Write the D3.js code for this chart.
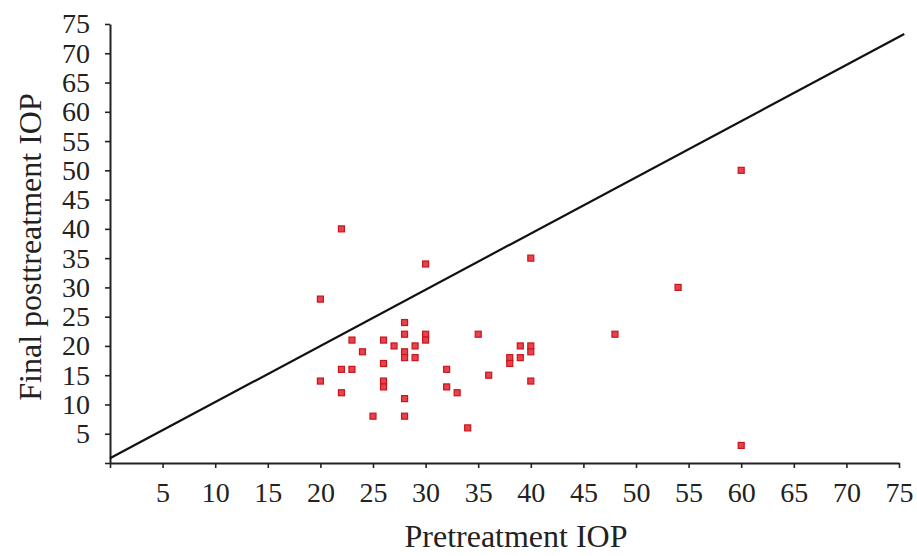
<!DOCTYPE html>
<html>
<head>
<meta charset="utf-8">
<script src="https://cdn.jsdelivr.net/npm/d3@7"></script>
<style>
  body { margin: 0; background: #fff; overflow: hidden; }
  svg { display: block; }
  svg text { font-family: "Liberation Serif", "DejaVu Serif", serif; fill: #222; }
</style>
</head>
<body>
<svg width="917" height="556"></svg>
<script>
// pretreatment vs final posttreatment IOP
const pretreatment = [20, 22, 30, 40, 54, 60, 48, 60,
  28, 23, 28, 30, 30, 26, 27, 29, 35, 24, 28, 28, 29, 26, 22, 23, 32,
  20, 26, 26, 36, 32, 22, 33, 28, 25, 28, 34, 38, 38, 39, 39, 40, 40, 40];
const posttreatment = [28, 40, 34, 35, 30, 50, 22, 3,
  24, 21, 22, 22, 21, 21, 20, 20, 22, 19, 19, 18, 18, 17, 16, 16, 16,
  14, 14, 13, 15, 13, 12, 12, 11, 8, 8, 6, 18, 17, 20, 18, 20, 19, 14];

// reference line as drawn in the figure (start and end points)
const refLineX = [0, 75.5];
const refLineY = [0.8, 73.3];

const tickValues = d3.range(0, 80, 5);
const xAxisLabel = 'Pretreatment IOP';
const yAxisLabel = 'Final posttreatment IOP';

const svg = d3.select('svg');
const width = +svg.attr('width');
const height = +svg.attr('height');

const margin = {top: 24, right: 18, bottom: 93, left: 110};
const innerWidth = width - margin.left - margin.right;
const innerHeight = height - margin.top - margin.bottom;

const data = pretreatment.map((d, i) => ({x: d, y: posttreatment[i]}));

const xScale = d3.scaleLinear().domain([0, 75]).range([0, innerWidth]);
const yScale = d3.scaleLinear().domain([0, 75]).range([innerHeight, 0]);

const g = svg.append('g')
    .attr('transform', `translate(${margin.left}, ${margin.top})`);

const xAxis = d3.axisBottom(xScale)
    .tickValues(tickValues)
    .tickSize(5)
    .tickSizeOuter(0)
    .tickPadding(14);

const yAxis = d3.axisLeft(yScale)
    .tickValues(tickValues)
    .tickSize(5)
    .tickSizeOuter(0)
    .tickPadding(15);

const xAxisG = g.append('g')
    .attr('transform', `translate(0, ${innerHeight})`)
    .call(xAxis);

const yAxisG = g.append('g').call(yAxis);

[xAxisG, yAxisG].forEach(a => {
  a.selectAll('.domain').attr('stroke', '#222').attr('stroke-width', 2);
  a.selectAll('.tick line').attr('stroke', '#222').attr('stroke-width', 1.6);
  a.selectAll('.tick text')
      .attr('font-size', 28)
      .attr('font-family', '"Liberation Serif", serif')
      .attr('fill', '#222');
  // no label at the origin
  a.selectAll('.tick').filter(d => d === 0).select('text').remove();
});

// diagonal reference line
const line = d3.line()
    .x(d => xScale(d[0]))
    .y(d => yScale(d[1]));

g.append('path')
    .datum(refLineX.map((x, i) => [x, refLineY[i]]))
    .attr('d', line)
    .attr('fill', 'none')
    .attr('stroke', '#111')
    .attr('stroke-width', 2.2);

// points
const s = 6;
g.selectAll('rect.pt').data(data)
  .enter().append('rect')
    .attr('class', 'pt')
    .attr('x', d => xScale(d.x) - s / 2)
    .attr('y', d => yScale(d.y) - s / 2)
    .attr('width', s)
    .attr('height', s)
    .attr('fill', '#e8424a')
    .attr('stroke', '#c8161f')
    .attr('stroke-width', 1.2);

// axis labels
svg.append('text')
    .attr('x', 516)
    .attr('y', 547)
    .attr('text-anchor', 'middle')
    .attr('font-size', 32)
    .text(xAxisLabel);

svg.append('text')
    .attr('transform', `translate(41, 247) rotate(-90)`)
    .attr('text-anchor', 'middle')
    .attr('font-size', 32)
    .text(yAxisLabel);
</script>
</body>
</html>
